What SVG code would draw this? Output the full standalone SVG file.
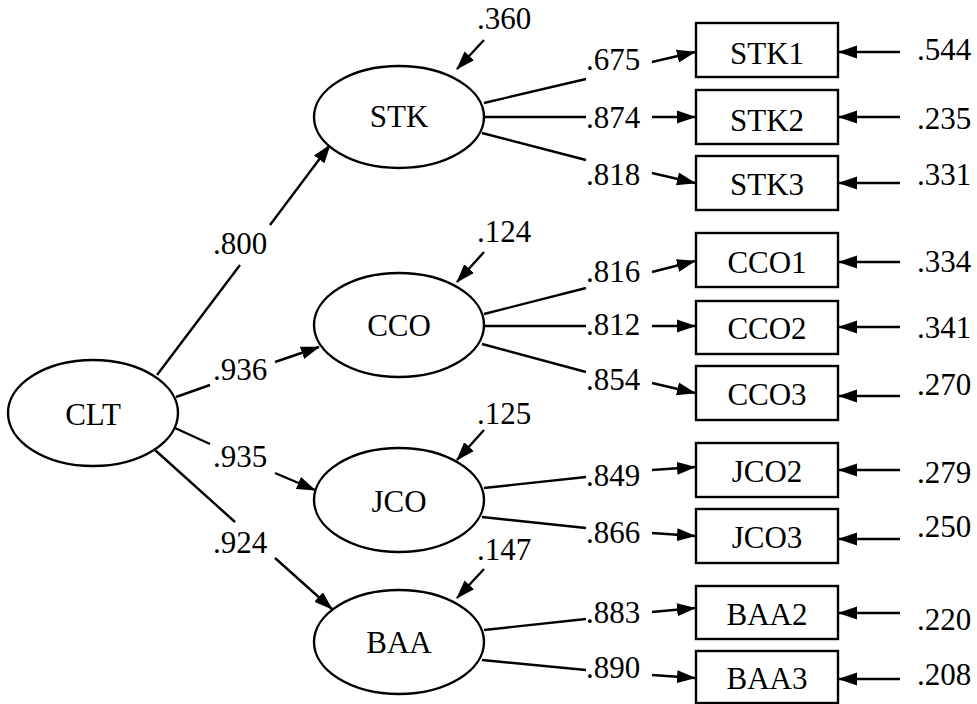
<svg xmlns="http://www.w3.org/2000/svg" width="977" height="704" viewBox="0 0 977 704">
<defs>
<marker id="ah" markerUnits="userSpaceOnUse" markerWidth="19" markerHeight="14" refX="18" refY="7" orient="auto">
<path d="M0,0.5 L19,7 L0,13.5 Z" fill="#000"/>
</marker>
<style>
text{font-family:"Liberation Serif","Times New Roman",serif;font-size:31px;fill:#000;text-anchor:middle}
.n ellipse,.n rect{fill:#fff;stroke:#000;stroke-width:2.4}
#edges line{stroke:#000;stroke-width:2.4}
#edges line.a{marker-end:url(#ah)}
</style>
</defs>
<rect width="977" height="704" fill="#fff"/>
<g id="edges">
<line x1="157" y1="375" x2="240" y2="265"/>
<line class="a" x1="270" y1="225" x2="330" y2="145"/>
<line x1="176" y1="397" x2="210" y2="385"/>
<line class="a" x1="275" y1="362" x2="319" y2="347"/>
<line x1="175" y1="428" x2="210" y2="444"/>
<line class="a" x1="275" y1="473" x2="315" y2="490"/>
<line x1="155" y1="450" x2="235" y2="522"/>
<line class="a" x1="275" y1="558" x2="332" y2="609"/>
<line class="a" x1="484" y1="40" x2="457" y2="69"/>
<line class="a" x1="484" y1="252" x2="457" y2="282"/>
<line class="a" x1="484" y1="430" x2="457" y2="460"/>
<line class="a" x1="484" y1="569" x2="457" y2="598"/>
<line x1="484" y1="103" x2="586" y2="79"/>
<line class="a" x1="652" y1="62" x2="695" y2="52"/>
<line x1="484" y1="117" x2="586" y2="117"/>
<line class="a" x1="652" y1="117" x2="695" y2="117"/>
<line x1="482" y1="133" x2="586" y2="160"/>
<line class="a" x1="652" y1="173" x2="695" y2="183"/>
<line x1="484" y1="314" x2="586" y2="288"/>
<line class="a" x1="652" y1="272" x2="695" y2="261"/>
<line x1="484" y1="326" x2="586" y2="326"/>
<line class="a" x1="652" y1="326" x2="695" y2="326"/>
<line x1="482" y1="344" x2="586" y2="372"/>
<line class="a" x1="652" y1="383" x2="695" y2="393"/>
<line x1="484" y1="488" x2="586" y2="477"/>
<line class="a" x1="652" y1="470" x2="695" y2="467"/>
<line x1="482" y1="517" x2="586" y2="528"/>
<line class="a" x1="652" y1="533" x2="695" y2="536"/>
<line x1="484" y1="630" x2="586" y2="619"/>
<line class="a" x1="652" y1="612" x2="695" y2="608"/>
<line x1="482" y1="660" x2="586" y2="670"/>
<line class="a" x1="652" y1="675" x2="695" y2="678"/>
<line class="a" x1="900" y1="52" x2="839" y2="52"/>
<line class="a" x1="900" y1="117" x2="839" y2="117"/>
<line class="a" x1="900" y1="183" x2="839" y2="183"/>
<line class="a" x1="900" y1="262" x2="839" y2="262"/>
<line class="a" x1="900" y1="327" x2="839" y2="327"/>
<line class="a" x1="900" y1="396" x2="839" y2="396"/>
<line class="a" x1="900" y1="470" x2="839" y2="470"/>
<line class="a" x1="900" y1="539" x2="839" y2="539"/>
<line class="a" x1="900" y1="613" x2="839" y2="613"/>
<line class="a" x1="900" y1="679" x2="839" y2="679"/>
</g>
<g id="labels">
<text x="240" y="254">.800</text>
<text x="240" y="380">.936</text>
<text x="240" y="467">.935</text>
<text x="240" y="553">.924</text>
<text x="504" y="29">.360</text>
<text x="504" y="242">.124</text>
<text x="504" y="424">.125</text>
<text x="504" y="560">.147</text>
<text x="613" y="70">.675</text>
<text x="613" y="128">.874</text>
<text x="613" y="185">.818</text>
<text x="613" y="282">.816</text>
<text x="613" y="335">.812</text>
<text x="613" y="390">.854</text>
<text x="613" y="486">.849</text>
<text x="613" y="543">.866</text>
<text x="613" y="623">.883</text>
<text x="613" y="678">.890</text>
<text x="944" y="60">.544</text>
<text x="944" y="129">.235</text>
<text x="944" y="185">.331</text>
<text x="944" y="272">.334</text>
<text x="944" y="338">.341</text>
<text x="944" y="395">.270</text>
<text x="944" y="483">.279</text>
<text x="944" y="537">.250</text>
<text x="944" y="630">.220</text>
<text x="944" y="685">.208</text>
</g>
<g id="CLT" class="n"><ellipse cx="93" cy="413" rx="85" ry="53"/><text x="93" y="425">CLT</text></g>
<g id="STK" class="n"><ellipse cx="399" cy="117" rx="85" ry="51"/><text x="399" y="127">STK</text></g>
<g id="CCO" class="n"><ellipse cx="399" cy="325" rx="85" ry="52"/><text x="399" y="336">CCO</text></g>
<g id="JCO" class="n"><ellipse cx="399" cy="500" rx="85" ry="52"/><text x="399" y="512">JCO</text></g>
<g id="BAA" class="n"><ellipse cx="399" cy="642" rx="85" ry="52"/><text x="399" y="653">BAA</text></g>
<g id="STK1" class="n"><rect x="696" y="23" width="142" height="54"/><text x="767" y="64">STK1</text></g>
<g id="STK2" class="n"><rect x="696" y="90" width="142" height="54"/><text x="767" y="131">STK2</text></g>
<g id="STK3" class="n"><rect x="696" y="156" width="142" height="54"/><text x="767" y="195">STK3</text></g>
<g id="CCO1" class="n"><rect x="696" y="233" width="142" height="54"/><text x="767" y="273">CCO1</text></g>
<g id="CCO2" class="n"><rect x="696" y="301" width="142" height="53"/><text x="767" y="339">CCO2</text></g>
<g id="CCO3" class="n"><rect x="696" y="366" width="142" height="54"/><text x="767" y="405">CCO3</text></g>
<g id="JCO2" class="n"><rect x="696" y="443" width="142" height="54"/><text x="767" y="482">JCO2</text></g>
<g id="JCO3" class="n"><rect x="696" y="509" width="142" height="54"/><text x="767" y="548">JCO3</text></g>
<g id="BAA2" class="n"><rect x="696" y="586" width="142" height="53"/><text x="767" y="625">BAA2</text></g>
<g id="BAA3" class="n"><rect x="696" y="651" width="142" height="52"/><text x="767" y="689">BAA3</text></g>
</svg>
